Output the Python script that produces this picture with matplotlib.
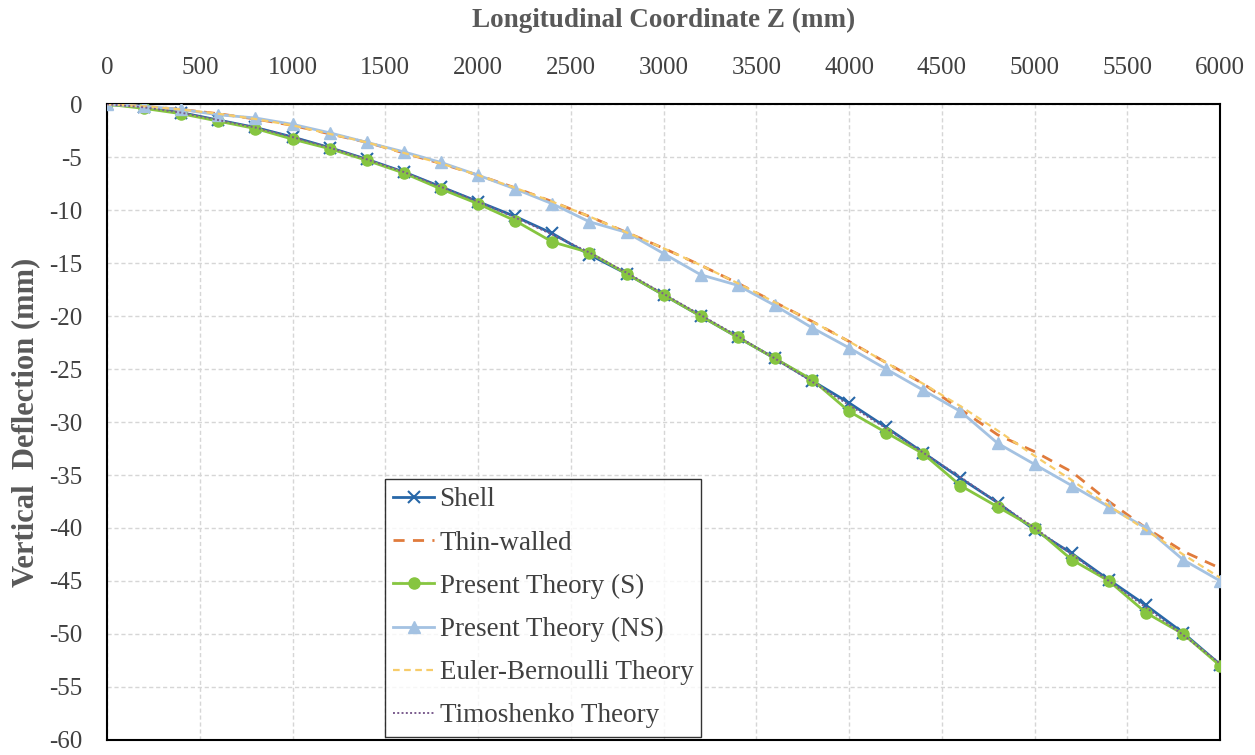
import numpy as np
import matplotlib
matplotlib.use("Agg")
import matplotlib.pyplot as plt

plt.rcParams['font.family'] = ['Liberation Serif', 'DejaVu Serif']
plt.rcParams['axes.unicode_minus'] = False

# longitudinal coordinate, every 200 mm
z = np.arange(0, 6001, 200)

shell = [0, -0.3, -0.8, -1.5, -2.2, -3.1, -4.1, -5.2, -6.4, -7.8, -9.2, -10.6, -12.2,
         -14.2, -16.0, -18.0, -20.0, -22.0, -24.0, -26.1, -28.2, -30.5, -32.9, -35.3,
         -37.6, -40.2, -42.4, -44.9, -47.3, -49.9, -52.9]
thin_walled = [0, -0.2, -0.5, -0.9, -1.4, -2.0, -2.8, -3.6, -4.6, -5.6, -6.7, -7.9, -9.2,
               -10.6, -12.1, -13.6, -15.2, -16.9, -18.7, -20.5, -22.4, -24.4, -26.4, -28.8,
               -31.2, -32.8, -34.7, -37.5, -40.0, -42.2, -43.8]
present_s = [0, -0.4, -0.9, -1.6, -2.3, -3.3, -4.2, -5.3, -6.5, -8.0, -9.4, -11.0, -13.0,
             -14.0, -16.0, -18.0, -20.0, -22.0, -24.0, -26.0, -29.0, -31.0, -33.0, -36.0,
             -38.0, -40.0, -43.0, -45.0, -48.0, -50.0, -53.0]
present_ns = [0, -0.2, -0.5, -1.0, -1.3, -1.9, -2.7, -3.6, -4.5, -5.5, -6.7, -8.0, -9.4,
              -11.1, -12.1, -14.1, -16.1, -17.1, -19.0, -21.1, -23.0, -25.0, -27.0, -29.0,
              -32.0, -34.0, -36.0, -38.0, -40.0, -43.0, -45.0]
euler = [0, -0.2, -0.5, -0.9, -1.4, -2.0, -2.8, -3.6, -4.6, -5.6, -6.7, -7.9, -9.2,
         -10.6, -12.1, -13.6, -15.2, -16.9, -18.7, -20.5, -22.4, -24.4, -26.4, -28.5,
         -30.8, -33.2, -35.5, -37.9, -40.2, -42.5, -44.7]
timoshenko = [0, -0.3, -0.8, -1.5, -2.2, -3.1, -4.1, -5.2, -6.4, -7.8, -9.2, -10.7, -12.3,
              -14.0, -15.9, -17.9, -19.9, -21.9, -24.0, -26.2, -28.4, -30.6, -32.9, -35.2,
              -37.6, -40.0, -42.5, -45.0, -47.5, -50.1, -52.8]

fig = plt.figure(figsize=(12.55, 7.55), dpi=100)
ax = fig.add_axes([0.0853, 0.02, 0.8870, 0.842])

ax.plot(z, shell, color='#2767A8', lw=2, marker='x', ms=8, mew=1.5, label='Shell', zorder=3)
ax.plot(z, thin_walled, color='#E07B3C', lw=2, ls=(0, (4, 3)), label='Thin-walled', zorder=3)
ax.plot(z, present_s, color='#86C540', lw=2, marker='o', ms=8, label='Present Theory (S)', zorder=4)
ax.plot(z, present_ns, color='#A4C2E2', lw=2, marker='^', ms=9, label='Present Theory (NS)', zorder=4)
ax.plot(z, euler, color='#F7CC6A', lw=1.6, ls=(0, (3, 2)), label='Euler-Bernoulli Theory', zorder=5)
ax.plot(z, timoshenko, color='#7B5C8E', lw=1.4, ls=(0, (1, 1.2)), label='Timoshenko Theory', zorder=5)

ax.set_xlim(0, 6000)
ax.set_ylim(-60, 0)
ax.set_xticks(np.arange(0, 6001, 500))
ax.set_yticks(np.arange(-60, 1, 5))
ax.xaxis.tick_top()
ax.xaxis.set_label_position('top')
ax.tick_params(axis='both', length=0, labelsize=18, colors='#404040')
ax.tick_params(axis='x', pad=18)
ax.tick_params(axis='y', pad=18)

ax.grid(True, color='#D6D6D6', ls=(0, (3, 2)), lw=1)
for s in ax.spines.values():
    s.set_color('black')
    s.set_linewidth(1.5)

ax.set_xlabel('Longitudinal Coordinate Z (mm)', fontsize=19.5, fontweight='bold',
              color='#595959', labelpad=22)
ax.set_ylabel('Vertical  Deflection (mm)', fontsize=22, fontweight='bold',
              color='#595959', labelpad=6)

leg = ax.legend(loc='upper left', bbox_to_anchor=(0.25, 0.41), borderaxespad=0,
                fontsize=19.5, frameon=True, fancybox=False, handlelength=1.5,
                handletextpad=0.2, labelspacing=0.67, borderpad=0.3)
leg.get_frame().set_edgecolor('black')
leg.get_frame().set_linewidth(1)
for t in leg.get_texts():
    t.set_color('#404040')

fig.savefig('out.png', dpi=100)
